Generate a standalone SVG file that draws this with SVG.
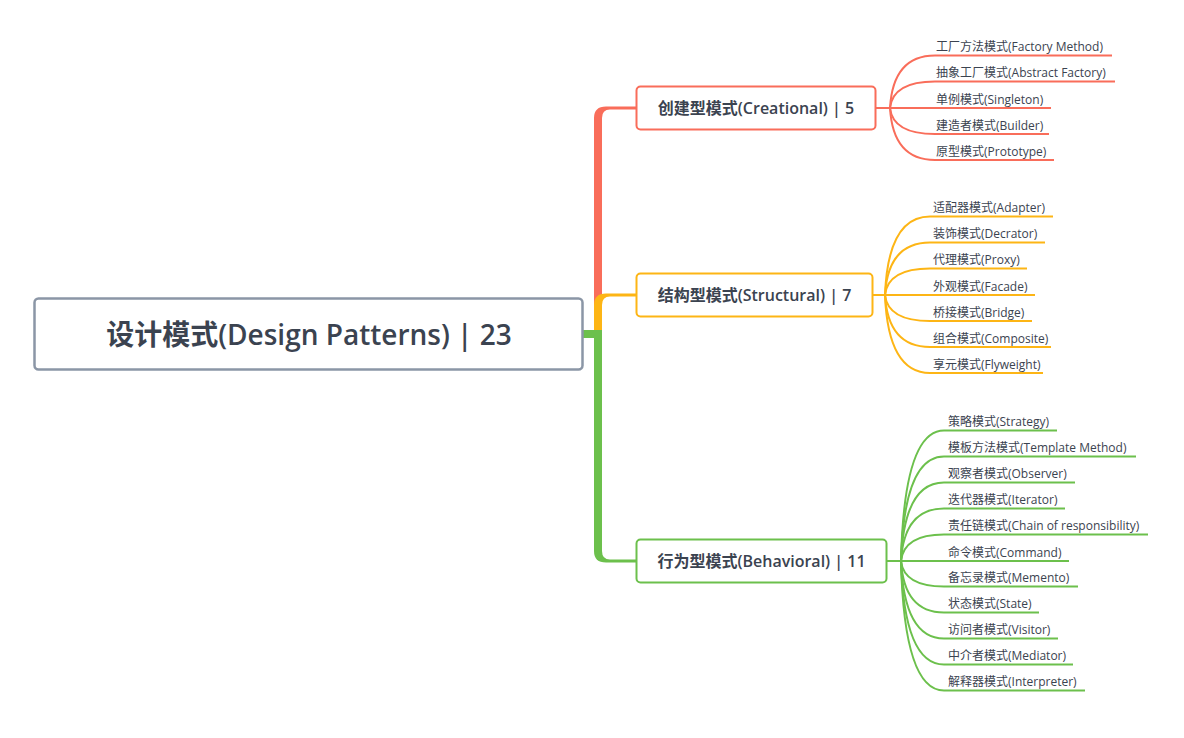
<svg xmlns="http://www.w3.org/2000/svg" width="1184" height="738" viewBox="0 0 1184 738">
<style>
text{font-family:"Open Sans","Noto Sans CJK SC",sans-serif;fill:#3b4350}
.root{font-size:28px;font-weight:600;text-anchor:middle}
.br{font-size:16px;font-weight:600;text-anchor:middle}
.leaf{font-size:12px}
.box{fill:#fff;stroke-width:2}
.r{stroke:#f96d5a}.o{stroke:#fdb515}.g{stroke:#6cc04c}
.ln{fill:none;stroke-width:2}
</style>
<rect width="1184" height="738" fill="#fff"/>
<g id="connectors">
<path d="M594,337 V118 Q594,106.5 606,106.5 H636 V109.5 H610 Q602,109.5 602,118 V337 Z" fill="#f96d5a"/>
<path d="M594,337 V305 Q594,293.5 606,293.5 H636 V296.5 H610 Q602,296.5 602,305 V337 Z" fill="#fdb515"/>
<path d="M594,330 V551 Q594,562.5 606,562.5 H636 V559.5 H610 Q602,559.5 602,551 V330 Z" fill="#6cc04c"/>
<rect x="583" y="330" width="19" height="8" fill="#6cc04c"/>
<g class="ln r">
<path d="M876,108 H890"/>
<path d="M890,108 Q893,55.5 935,55.5 H1112"/>
<path d="M890,108 Q893,81.5 935,81.5 H1115"/>
<path d="M890,108 H1051"/>
<path d="M890,108 Q893,134 935,134 H1049"/>
<path d="M890,108 Q893,160 935,160 H1054"/>
</g>
<g class="ln o">
<path d="M873,295 H885"/>
<path d="M885,295 Q888,216.5 930,216.5 H1053"/>
<path d="M885,295 Q888,242.5 930,242.5 H1045"/>
<path d="M885,295 Q888,268.5 930,268.5 H1027"/>
<path d="M885,295 H1035"/>
<path d="M885,295 Q888,321 930,321 H1032"/>
<path d="M885,295 Q888,347 930,347 H1051"/>
<path d="M885,295 Q888,373 930,373 H1043"/>
</g>
<g class="ln g">
<path d="M887,561 H901"/>
<path d="M901,561 Q904,430.5 944,430.5 H1057"/>
<path d="M901,561 Q904,456.5 944,456.5 H1136"/>
<path d="M901,561 Q904,482.5 944,482.5 H1075"/>
<path d="M901,561 Q904,508.5 944,508.5 H1065"/>
<path d="M901,561 Q904,534.5 944,534.5 H1148"/>
<path d="M901,561 H1069"/>
<path d="M901,561 Q904,586.5 944,586.5 H1078"/>
<path d="M901,561 Q904,612.5 944,612.5 H1039"/>
<path d="M901,561 Q904,638.5 944,638.5 H1058"/>
<path d="M901,561 Q904,664.5 944,664.5 H1073"/>
<path d="M901,561 Q904,690.5 944,690.5 H1085"/>
</g>
</g>
<g id="root">
<rect x="34.5" y="298.5" width="548" height="71" rx="4" fill="#fff" stroke="#8b96a6" stroke-width="2.5"/>
<text class="root" x="309" y="344.5">设计模式(Design Patterns) | 23</text>
</g>
<g id="creational">
<rect class="box r" x="636.5" y="86.5" width="239" height="43" rx="4"/>
<text class="br" x="756" y="114">创建型模式(Creational) | 5</text>
</g>
<g id="structural">
<rect class="box o" x="636.5" y="273.5" width="236" height="43" rx="4"/>
<text class="br" x="754.5" y="301">结构型模式(Structural) | 7</text>
</g>
<g id="behavioral">
<rect class="box g" x="636.5" y="539.5" width="250" height="43" rx="4"/>
<text class="br" x="761.5" y="567">行为型模式(Behavioral) | 11</text>
</g>
<g id="creational-children">
<g id="c1"><text class="leaf" x="936" y="51">工厂方法模式(Factory Method)</text></g>
<g id="c2"><text class="leaf" x="936" y="77">抽象工厂模式(Abstract Factory)</text></g>
<g id="c3"><text class="leaf" x="936" y="103.5">单例模式(Singleton)</text></g>
<g id="c4"><text class="leaf" x="936" y="129.5">建造者模式(Builder)</text></g>
<g id="c5"><text class="leaf" x="936" y="155.5">原型模式(Prototype)</text></g>
</g>
<g id="structural-children">
<g id="s1"><text class="leaf" x="933" y="212">适配器模式(Adapter)</text></g>
<g id="s2"><text class="leaf" x="933" y="238">装饰模式(Decrator)</text></g>
<g id="s3"><text class="leaf" x="933" y="264">代理模式(Proxy)</text></g>
<g id="s4"><text class="leaf" x="933" y="290.5">外观模式(Facade)</text></g>
<g id="s5"><text class="leaf" x="933" y="316.5">桥接模式(Bridge)</text></g>
<g id="s6"><text class="leaf" x="933" y="342.5">组合模式(Composite)</text></g>
<g id="s7"><text class="leaf" x="933" y="368.5">享元模式(Flyweight)</text></g>
</g>
<g id="behavioral-children">
<g id="b1"><text class="leaf" x="948" y="426">策略模式(Strategy)</text></g>
<g id="b2"><text class="leaf" x="948" y="452">模板方法模式(Template Method)</text></g>
<g id="b3"><text class="leaf" x="948" y="478">观察者模式(Observer)</text></g>
<g id="b4"><text class="leaf" x="948" y="504">迭代器模式(Iterator)</text></g>
<g id="b5"><text class="leaf" x="948" y="530">责任链模式(Chain of responsibility)</text></g>
<g id="b6"><text class="leaf" x="948" y="556.5">命令模式(Command)</text></g>
<g id="b7"><text class="leaf" x="948" y="582">备忘录模式(Memento)</text></g>
<g id="b8"><text class="leaf" x="948" y="608">状态模式(State)</text></g>
<g id="b9"><text class="leaf" x="948" y="634">访问者模式(Visitor)</text></g>
<g id="b10"><text class="leaf" x="948" y="660">中介者模式(Mediator)</text></g>
<g id="b11"><text class="leaf" x="948" y="686">解释器模式(Interpreter)</text></g>
</g>
</svg>
